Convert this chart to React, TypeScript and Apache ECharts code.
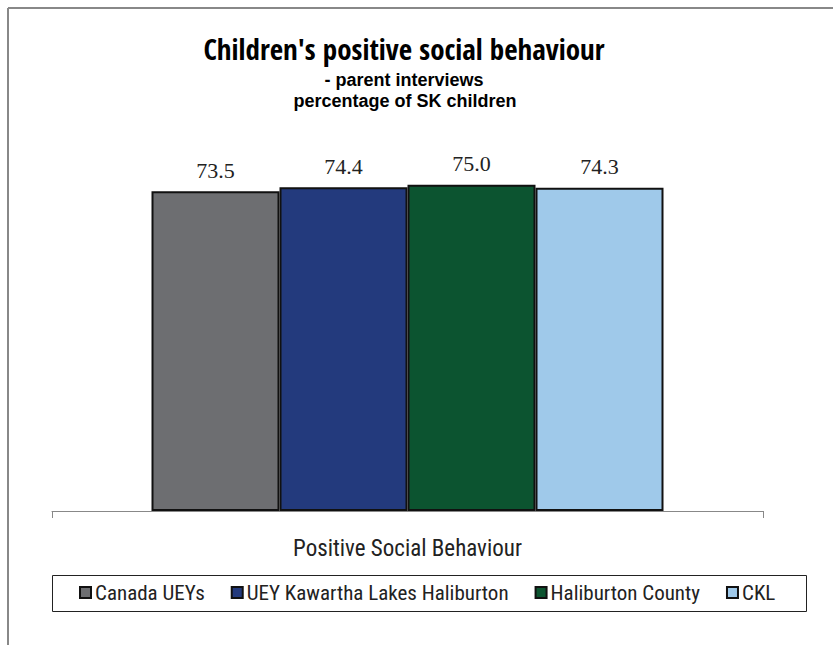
import React, { useEffect, useRef } from "react";
import * as echarts from "echarts";

const categories = ["Positive Social Behaviour"];
const seriesNames = ["Canada UEYs", "UEY Kawartha Lakes Haliburton", "Haliburton County", "CKL"];
const seriesValues = [[73.5], [74.4], [75.0], [74.3]];
const seriesColors = ["#6d6e71", "#233a7d", "#0c5430", "#9fc9ea"];
const titleLines = ["Children's positive social behaviour", "- parent interviews", "percentage of SK children"];

const TITLE_FONT = "'Open Sans Condensed', 'Roboto Condensed', sans-serif";
const SUB_FONT = "'Liberation Sans', Arial, sans-serif";
const SANS = "'Roboto Condensed', 'DejaVu Sans Condensed', sans-serif";
const SERIF = "'Liberation Serif', 'DejaVu Serif', serif";

export default function App() {
  const ref = useRef<HTMLDivElement>(null);
  useEffect(() => {
    if (!ref.current) return;
    const chart = echarts.init(ref.current, null, { renderer: "svg" });
    chart.setOption({
      animation: false,
      backgroundColor: "#ffffff",
      title: [
        {
          text: titleLines[0],
          left: 404,
          textAlign: "center",
          top: 32,
          padding: 0,
          textStyle: { fontFamily: TITLE_FONT, fontSize: 29, fontWeight: "bold", color: "#000", lineHeight: 32 },
        },
        {
          text: titleLines[1],
          left: 404,
          textAlign: "center",
          top: 69,
          padding: 0,
          textStyle: { fontFamily: SUB_FONT, fontSize: 18, fontWeight: "bold", color: "#000", lineHeight: 21 },
        },
        {
          text: titleLines[2],
          left: 405,
          textAlign: "center",
          top: 90,
          padding: 0,
          textStyle: { fontFamily: SUB_FONT, fontSize: 18, fontWeight: "bold", color: "#000", lineHeight: 21 },
        },
      ],
      legend: {
        left: 79,
        top: 582,
        padding: 0,
        itemWidth: 11,
        itemHeight: 11,
        itemGap: 26,
        icon: "rect",
        data: seriesNames,
        textStyle: { fontFamily: SANS, fontSize: 21, color: "#222", padding: [0, 0, 0, -1] },
      },
      grid: { left: 52, right: 70, top: 76, bottom: 134 },
      xAxis: {
        type: "category",
        data: categories,
        axisLine: { lineStyle: { color: "#888", width: 1 } },
        axisTick: { show: true, length: 7, lineStyle: { color: "#888" } },
        axisLabel: { fontFamily: SANS, fontSize: 23, color: "#222", margin: 26 },
      },
      yAxis: { type: "value", min: 0, max: 100, show: false, splitLine: { show: false } },
      series: seriesNames.map((name, i) => ({
        name,
        type: "bar",
        data: seriesValues[i],
        barWidth: 128,
        barGap: "0%",
        itemStyle: { color: seriesColors[i], borderColor: "#111", borderWidth: 2 },
        label: {
          show: true,
          position: "top",
          distance: 10,
          formatter: (p: any) => Number(p.value).toFixed(1),
          fontFamily: SERIF,
          fontSize: 22,
          color: "#222",
        },
      })),
      graphic: [
        { type: "line", shape: { x1: 8, y1: 8, x2: 833, y2: 8 }, style: { stroke: "#888", lineWidth: 2 } },
        { type: "line", shape: { x1: 8, y1: 8, x2: 8, y2: 645 }, style: { stroke: "#888", lineWidth: 2 } },
        { type: "rect", shape: { x: 52.5, y: 575.5, width: 754, height: 36 }, style: { fill: "none", stroke: "#222", lineWidth: 1 }, z: -1 },
      ],
    });
    return () => chart.dispose();
  }, []);
  return <div ref={ref} style={{ position: "fixed", left: 0, top: 0, width: 833, height: 645 }} />;
}
